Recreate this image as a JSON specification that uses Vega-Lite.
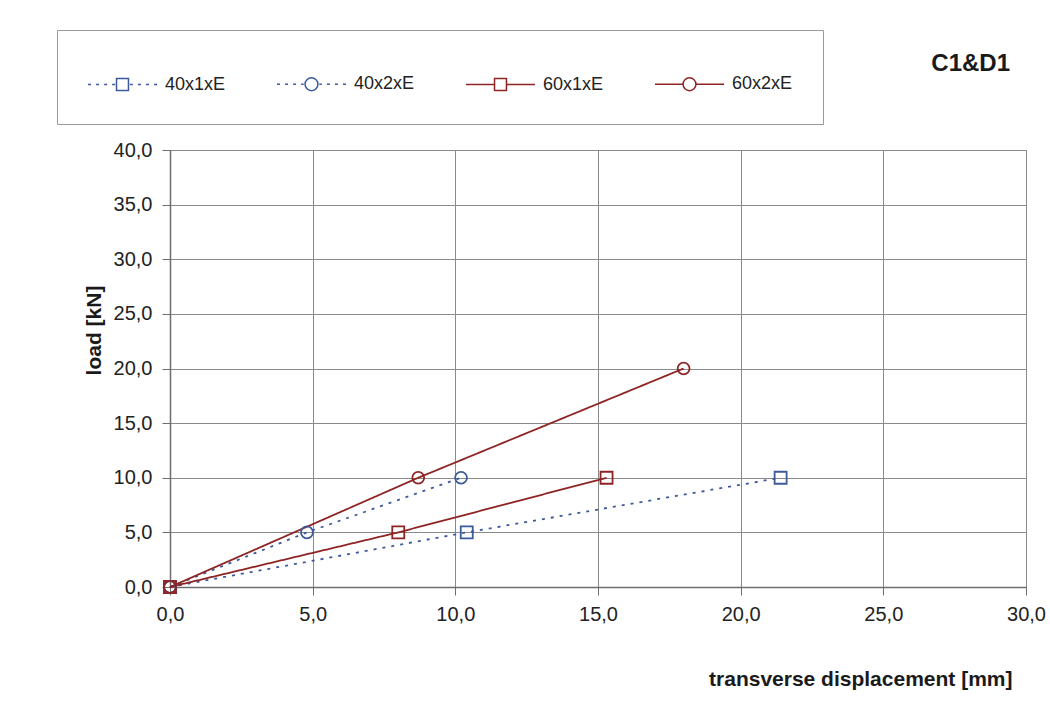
{
  "$schema": "https://vega.github.io/schema/vega-lite/v6.json",
  "autosize": {"type": "none"},
  "width": 856,
  "height": 437,
  "padding": {"left": 170, "top": 150, "right": 24, "bottom": 126},
  "background": "white",
  "title": {
    "text": "C1&D1",
    "orient": "top",
    "anchor": "end",
    "frame": "group",
    "offset": 0,
    "dy": 46,
    "dx": -16,
    "font": "Liberation Sans",
    "fontSize": 24,
    "fontWeight": "bold",
    "color": "#1a1a1a"
  },
  "data": {
    "values": [
      {"series": "40x1xE", "x": 0, "y": 0},
      {"series": "40x1xE", "x": 10.4, "y": 5},
      {"series": "40x1xE", "x": 21.4, "y": 10},
      {"series": "40x2xE", "x": 0, "y": 0},
      {"series": "40x2xE", "x": 4.8, "y": 5},
      {"series": "40x2xE", "x": 10.2, "y": 10},
      {"series": "60x1xE", "x": 0, "y": 0},
      {"series": "60x1xE", "x": 8.0, "y": 5},
      {"series": "60x1xE", "x": 15.3, "y": 10},
      {"series": "60x2xE", "x": 0, "y": 0},
      {"series": "60x2xE", "x": 8.7, "y": 10},
      {"series": "60x2xE", "x": 18.0, "y": 20}
    ]
  },
  "resolve": {"legend": {"color": "independent", "shape": "independent", "strokeDash": "independent"}},
  "layer": [
    {
      "mark": {"type": "line", "strokeWidth": 1.8},
      "encoding": {
        "x": {
          "field": "x",
          "type": "quantitative",
          "scale": {"domain": [0, 30], "nice": false, "zero": false},
          "axis": {
            "values": [0, 5, 10, 15, 20, 25, 30],
            "labelExpr": "replace(format(datum.value, '.1f'), '.', ',')",
            "title": "transverse displacement [mm]",
            "titleX": 842,
            "titleY": 98,
            "titleAlign": "right",
            "titleBaseline": "alphabetic",
            "labelPadding": 9
          }
        },
        "y": {
          "field": "y",
          "type": "quantitative",
          "scale": {"domain": [0, 40], "nice": false, "zero": false},
          "axis": {
            "values": [0, 5, 10, 15, 20, 25, 30, 35, 40],
            "labelExpr": "replace(format(datum.value, '.1f'), '.', ',')",
            "title": "load [kN]",
            "titleX": -76,
            "titleY": 180,
            "titleAngle": -90,
            "titleAlign": "center",
            "titleBaseline": "middle",
            "labelPadding": 10
          }
        },
        "color": {
          "field": "series",
          "type": "nominal",
          "scale": {
            "domain": ["40x1xE", "40x2xE", "60x1xE", "60x2xE"],
            "range": ["#3d5a9a", "#3d5a9a", "#8e2424", "#8e2424"]
          },
          "legend": null
        },
        "strokeDash": {
          "field": "series",
          "type": "nominal",
          "scale": {
            "domain": ["40x1xE", "40x2xE", "60x1xE", "60x2xE"],
            "range": [[3, 6], [3, 6], [1, 0], [1, 0]]
          },
          "legend": null
        }
      }
    },
    {
      "transform": [{"filter": {"field": "series", "oneOf": ["40x1xE", "60x1xE"]}}],
      "mark": {"type": "point", "shape": "square", "filled": false, "size": 144, "strokeWidth": 1.8, "opacity": 1},
      "encoding": {
        "x": {"field": "x", "type": "quantitative"},
        "y": {"field": "y", "type": "quantitative"},
        "color": {"field": "series", "type": "nominal", "legend": null}
      }
    },
    {
      "transform": [{"filter": {"field": "series", "oneOf": ["40x2xE", "60x2xE"]}}],
      "mark": {"type": "point", "shape": "circle", "filled": false, "size": 140, "strokeWidth": 1.8, "opacity": 1},
      "encoding": {
        "x": {"field": "x", "type": "quantitative"},
        "y": {"field": "y", "type": "quantitative"},
        "color": {"field": "series", "type": "nominal", "legend": null}
      }
    },
    {
      "mark": {"type": "point", "filled": false, "opacity": 1, "size": 0, "strokeWidth": 1.5},
      "encoding": {
        "x": {"field": "x", "type": "quantitative"},
        "y": {"field": "y", "type": "quantitative"},
        "color": {
          "field": "series",
          "type": "nominal",
          "legend": {
            "title": null,
            "orient": "none",
            "legendX": -113,
            "legendY": -120,
            "direction": "horizontal",
            "padding": 30,
            "strokeColor": "#9a9a9a",
            "fillColor": "white",
            "symbolSize": 2116,
            "symbolStrokeWidth": 1.5,
            "labelOffset": 30,
            "columnPadding": 48,
            "labelFont": "Liberation Sans",
            "labelFontSize": 18,
            "labelColor": "#222222"
          }
        },
        "shape": {
          "field": "series",
          "type": "nominal",
          "scale": {
            "domain": ["40x1xE", "40x2xE", "60x1xE", "60x2xE"],
            "range": [
              "M-1,0L-0.87,0M-0.65,0L-0.52,0M-0.3,0L-0.17,0M0.05,0L0.18,0M0.24,-0.26L0.76,-0.26L0.76,0.26L0.24,0.26ZM0.82,0L0.95,0M1.17,0L1.3,0M1.52,0L1.65,0M1.87,0L2,0",
              "M-1,0L-0.87,0M-0.65,0L-0.52,0M-0.3,0L-0.17,0M0.05,0L0.16,0M0.78,0A0.28,0.28,0,1,1,0.22,0A0.28,0.28,0,1,1,0.78,0M0.84,0L0.95,0M1.17,0L1.3,0M1.52,0L1.65,0M1.87,0L2,0",
              "M-1,0L0.24,0M0.24,-0.26L0.76,-0.26L0.76,0.26L0.24,0.26ZM0.76,0L2,0",
              "M-1,0L0.22,0M0.78,0A0.28,0.28,0,1,1,0.22,0A0.28,0.28,0,1,1,0.78,0M0.78,0L2,0"
            ]
          },
          "legend": {
            "title": null,
            "orient": "none",
            "legendX": -113,
            "legendY": -120,
            "direction": "horizontal",
            "padding": 30,
            "strokeColor": "#9a9a9a",
            "fillColor": "white",
            "symbolSize": 2116,
            "symbolStrokeWidth": 1.5,
            "labelOffset": 30,
            "columnPadding": 48,
            "labelFont": "Liberation Sans",
            "labelFontSize": 18,
            "labelColor": "#222222"
          }
        }
      }
    }
  ],
  "config": {
    "view": {"stroke": "#808080", "strokeWidth": 1},
    "axis": {
      "grid": true,
      "gridColor": "#8a8a8a",
      "gridWidth": 1,
      "domainColor": "#6e6e6e",
      "domainWidth": 1.5,
      "tickColor": "#6e6e6e",
      "tickSize": 8,
      "tickWidth": 1,
      "labelFont": "Liberation Sans",
      "labelFontSize": 20,
      "labelColor": "#222222",
      "labelFlush": false,
      "labelOverlap": false,
      "titleFont": "Liberation Sans",
      "titleFontSize": 21,
      "titleFontWeight": "bold",
      "titleColor": "#1a1a1a"
    }
  }
}
